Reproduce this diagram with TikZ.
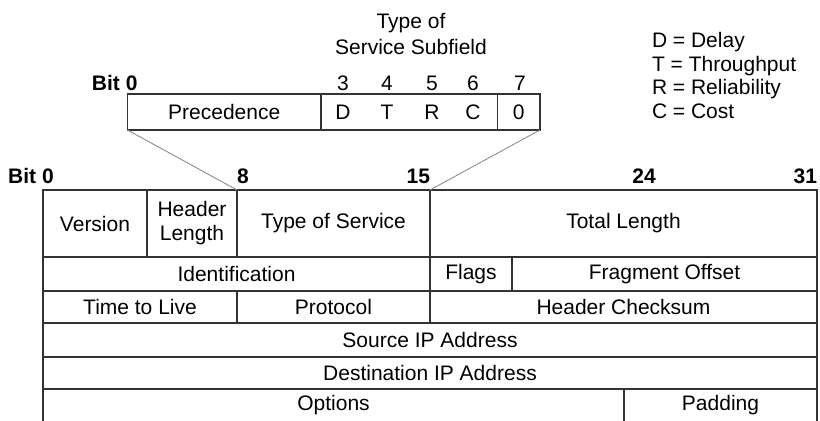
\documentclass[tikz,border=0pt]{standalone}
\usepackage{fontspec}
\setmainfont{Liberation Sans}
\usetikzlibrary{positioning}
\begin{document}
\begin{tikzpicture}[x=0.5pt, y=-0.5pt,
    every node/.style={font=\fontsize{10.5}{12}\selectfont, inner sep=0pt, outer sep=0pt},
    field/.style={draw=black!80, line width=0.65pt, anchor=north west, align=center},
    openfield/.style={anchor=north west},
    edge/.style={draw=black!80, line width=0.65pt},
    bitnum/.style={font=\fontsize{10.5}{12}\selectfont\bfseries},
    fan/.style={draw=black!45, line width=0.45pt}]
    \useasboundingbox (0,0) rectangle (820,421);
    % type of service subfield
    \node[align=center, font=\fontsize{10.5}{13}\selectfont] (tostitle) at (411,34) {Type of\\Service Subfield};
    \node[bitnum, anchor=east] (tosbit0) at (137.5,83) {Bit 0};
    \node[field, minimum width=96.75pt, minimum height=18pt] (prec) at (127.5,94) {Precedence};
    \node[field, minimum width=88.25pt, minimum height=18pt] (dtrc) at (prec.north east) {};
    \node[field, minimum width=21.25pt, minimum height=18pt] (zero) at (dtrc.north east) {0};
    \foreach \x/\b/\l in {343/3/D, 387/4/T, 432/5/R, 473/6/C} {
        \node (tosbit\b) at (\x,83) {\b};
        \node (flag\l) at (\x,112) {\l};
    }
    \node (tosbit7) at (520,83) {7};
    \node[align=left, anchor=west, font=\fontsize{10.5}{11.85}\selectfont] (legend) at (652,75.5)
        {D = Delay\\T = Throughput\\R = Reliability\\C = Cost};
    % bit numbers
    \node[bitnum] (bit0) at (31,176) {Bit 0};
    \node[bitnum, anchor=west] (bit8) at (237,176) {8};
    \node[bitnum, anchor=east] (bit15) at (430,176) {15};
    \node[bitnum] (bit24) at (644,176) {24};
    \node[bitnum, anchor=east] (bit31) at (817,176) {31};
    % header fields
    \node[field, minimum width=52pt, minimum height=33.5pt] (ver) at (43,190) {Version};
    \node[field, minimum width=45pt, minimum height=33.5pt] (hlen) at (ver.north east) {Header\\Length};
    \node[field, minimum width=96.5pt, minimum height=33.5pt] (tos) at (hlen.north east) {Type of Service};
    \node[field, minimum width=193.5pt, minimum height=33.5pt] (tlen) at (tos.north east) {Total Length};
    \node[field, minimum width=193.5pt, minimum height=17pt] (ident) at (ver.south west) {Identification};
    \node[field, minimum width=41pt, minimum height=17pt] (flags) at (ident.north east) {Flags};
    \node[field, minimum width=152.5pt, minimum height=17pt] (fragoff) at (flags.north east) {Fragment Offset};
    \node[field, minimum width=97pt, minimum height=16pt] (ttl) at (ident.south west) {Time to Live};
    \node[field, minimum width=96.5pt, minimum height=16pt] (proto) at (ttl.north east) {Protocol};
    \node[field, minimum width=193.5pt, minimum height=16pt] (cksum) at (proto.north east) {Header Checksum};
    \node[field, minimum width=387pt, minimum height=17pt] (srcip) at (ttl.south west) {Source IP Address};
    \node[field, minimum width=387pt, minimum height=16pt] (dstip) at (srcip.south west) {Destination IP Address};
    \node[openfield, minimum width=290.5pt, minimum height=16pt] (opts) at (dstip.south west) {Options};
    \node[openfield, minimum width=96.5pt, minimum height=16pt] (pad) at (opts.north east) {Padding};
    \draw[edge] (opts.south west) -- (opts.north west)
        (pad.north west) -- (pad.south west)
        (pad.north east) -- (pad.south east);
    % expansion lines
    \draw[fan] (prec.south west) -- (tos.north west);
    \draw[fan] (zero.south east) -- (tlen.north west);
\end{tikzpicture}
\end{document}
